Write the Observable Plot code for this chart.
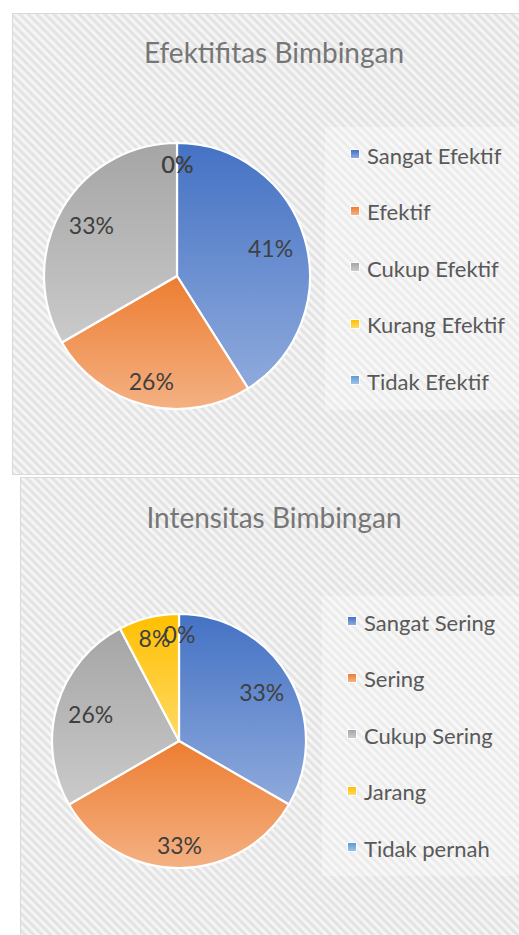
<!DOCTYPE html>
<html>
<head>
<meta charset="utf-8">
<script src="https://cdn.jsdelivr.net/npm/d3@7"></script>
<script src="https://cdn.jsdelivr.net/npm/@observablehq/plot@0.6"></script>
<style>
  html, body { margin: 0; padding: 0; background: #fff; }
  body { width: 519px; height: 935px; overflow: hidden; position: relative; font-family: "Lato", "Open Sans", sans-serif; }
  .panel { position: absolute; box-sizing: border-box; border: 1px solid #d9d9d9;
    background: repeating-linear-gradient(45deg, #dfdfdf 0px, #f9f9f9 3px, #dfdfdf 6px); }
  .title { position: absolute; left: 0; width: 548px; text-align: center; font-size: 28px; line-height: 28px; color: #767676; white-space: nowrap; }
  .legendbox { position: absolute; background: rgba(255,255,255,0.3); }
  .item { position: absolute; font-size: 22px; line-height: 22px; color: #595959; white-space: nowrap; }
  .swatch { position: absolute; width: 8px; height: 8px; outline: 1px solid rgba(255,255,255,0.8); }
  .pie { position: absolute; }
</style>
</head>
<body>
<div id="root"></div>
<script>
// ---------- data ----------
const chart1Title = "Efektifitas Bimbingan";
const chart1Categories = ["Sangat Efektif", "Efektif", "Cukup Efektif", "Kurang Efektif", "Tidak Efektif"];
const chart1Values = [16, 10, 13, 0, 0];

const chart2Title = "Intensitas Bimbingan";
const chart2Categories = ["Sangat Sering", "Sering", "Cukup Sering", "Jarang", "Tidak pernah"];
const chart2Values = [13, 13, 10, 3, 0];

// Office theme colours (gradient top -> bottom)
const seriesColors = [
  ["#4472C4", "#8FAADC"],
  ["#ED7D31", "#F4B183"],
  ["#A5A5A5", "#CACACA"],
  ["#FFC000", "#FFD966"],
  ["#5B9BD5", "#9DC3E6"]
];

const root = document.getElementById("root");

function pieMark(values, colors, id) {
  return (index, scales) => {
    const cx = scales.x(0), cy = scales.y(0), R = scales.x(1) - scales.x(0);
    const arcs = d3.pie().sort(null).value(d => d)(values);
    const g = d3.create("svg:g");
    const defs = g.append("defs");
    arcs.forEach((a, i) => {
      const lg = defs.append("linearGradient").attr("id", `${id}-g${i}`)
        .attr("x1", 0).attr("y1", 0).attr("x2", 0).attr("y2", 1);
      lg.append("stop").attr("offset", 0).attr("stop-color", colors[i][0]);
      lg.append("stop").attr("offset", 1).attr("stop-color", colors[i][1]);
    });
    g.append("g").attr("transform", `translate(${cx},${cy})`)
      .selectAll("path").data(arcs.filter(a => a.value > 0)).join("path")
      .attr("d", d3.arc().innerRadius(0).outerRadius(R))
      .attr("fill", d => `url(#${id}-g${d.index})`)
      .attr("stroke", "#fff").attr("stroke-width", 2.2).attr("stroke-linejoin", "round");
    return g.node();
  };
}

function labelData(values) {
  const total = d3.sum(values);
  return d3.pie().sort(null).value(d => d)(values).map(a => {
    const mid = (a.startAngle + a.endAngle) / 2;
    const k = 0.83 - 0.11 * Math.sin(mid) ** 2;
    return { x: k * Math.sin(mid), y: k * Math.cos(mid), label: Math.round(a.value / total * 100) + "%" };
  });
}

function buildChart(cfg) {
  const panel = document.createElement("div");
  panel.className = "panel";
  Object.assign(panel.style, { left: cfg.panel[0] + "px", top: cfg.panel[1] + "px", width: cfg.panel[2] + "px", height: cfg.panel[3] + "px" });
  root.appendChild(panel);

  const t = document.createElement("div");
  t.className = "title";
  t.textContent = cfg.title;
  t.style.top = cfg.titleTop + "px";
  root.appendChild(t);

  const lb = document.createElement("div");
  lb.className = "legendbox";
  Object.assign(lb.style, { left: cfg.legendBox[0] + "px", top: cfg.legendBox[1] + "px", width: cfg.legendBox[2] + "px", height: cfg.legendBox[3] + "px" });
  root.appendChild(lb);

  cfg.categories.forEach((c, i) => {
    const cy = cfg.legendY0 + i * cfg.legendStep;
    const sw = document.createElement("div");
    sw.className = "swatch";
    sw.style.left = cfg.swatchX + "px";
    sw.style.top = (cy - 4) + "px";
    sw.style.background = `linear-gradient(${seriesColors[i][0]}, ${seriesColors[i][1]})`;
    root.appendChild(sw);
    const it = document.createElement("div");
    it.className = "item";
    it.textContent = c;
    it.style.left = cfg.textX + "px";
    it.style.top = (cy - 9.5) + "px";
    root.appendChild(it);
  });

  const size = cfg.r * 2 + 20;
  const svg = Plot.plot({
    width: size, height: size, margin: 10,
    x: { domain: [-1, 1], axis: null },
    y: { domain: [-1, 1], axis: null },
    style: { background: "transparent", overflow: "visible" },
    marks: [
      pieMark(cfg.values, seriesColors, cfg.id),
      Plot.text(labelData(cfg.values), { x: "x", y: "y", text: "label", fontSize: 23, fill: "#404040", fontFamily: "Lato" })
    ]
  });
  const wrap = document.createElement("div");
  wrap.className = "pie";
  wrap.style.left = (cfg.cx - size / 2) + "px";
  wrap.style.top = (cfg.cy - size / 2) + "px";
  wrap.appendChild(svg);
  root.appendChild(wrap);
}

buildChart({
  id: "c1", title: chart1Title, categories: chart1Categories, values: chart1Values,
  panel: [12, 13, 530, 462], titleTop: 38,
  legendBox: [325, 127, 200, 283],
  legendY0: 154, legendStep: 56.5, swatchX: 351, textX: 367,
  cx: 176.5, cy: 276, r: 133
});
buildChart({
  id: "c2", title: chart2Title, categories: chart2Categories, values: chart2Values,
  panel: [20, 477, 530, 480], titleTop: 503,
  legendBox: [322, 596, 200, 280],
  legendY0: 621, legendStep: 56.5, swatchX: 348, textX: 364,
  cx: 179, cy: 741, r: 127
});
</script>
</body>
</html>
